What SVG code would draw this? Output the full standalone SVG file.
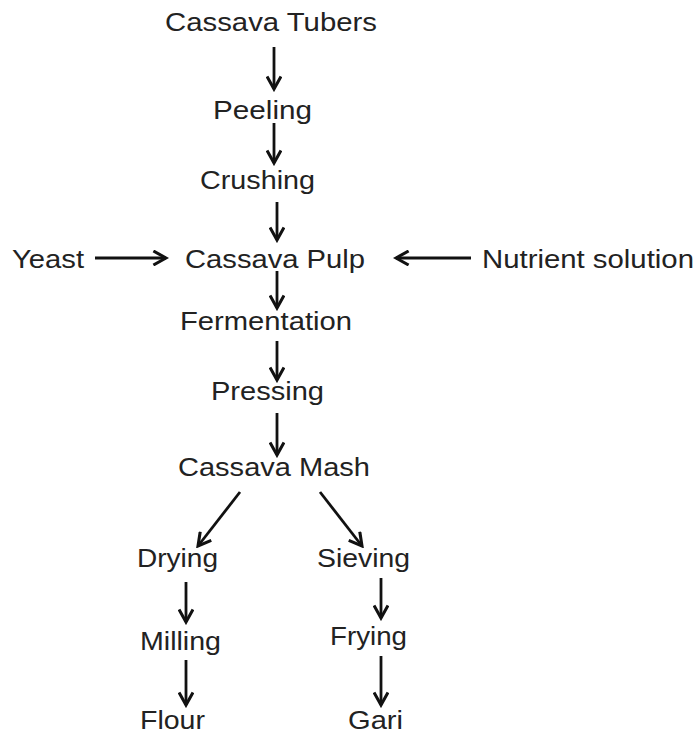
<svg xmlns="http://www.w3.org/2000/svg" width="696" height="734" viewBox="0 0 696 734">
<defs>
<style>
text{font-family:"Liberation Sans",Arial,sans-serif;font-size:26px;fill:#222}
.c line{stroke:#111;stroke-width:2.8;fill:none}
</style>
<marker id="ah" viewBox="0 0 12 12" refX="10" refY="6" markerWidth="6" markerHeight="6" markerUnits="strokeWidth" orient="auto">
<path d="M1,1 L10,6 L1,11" fill="none" stroke="#111" stroke-width="2.2"/>
</marker>
</defs>
<rect width="696" height="734" fill="#fff"/>
<g id="n-tubers"><text x="165" y="31" textLength="212" lengthAdjust="spacingAndGlyphs">Cassava Tubers</text></g>
<g id="n-peeling"><text x="213" y="119" textLength="99" lengthAdjust="spacingAndGlyphs">Peeling</text></g>
<g id="n-crushing"><text x="200" y="189" textLength="115" lengthAdjust="spacingAndGlyphs">Crushing</text></g>
<g id="n-yeast"><text x="12" y="268" textLength="72" lengthAdjust="spacingAndGlyphs">Yeast</text></g>
<g id="n-pulp"><text x="185" y="268" textLength="180" lengthAdjust="spacingAndGlyphs">Cassava Pulp</text></g>
<g id="n-nutrient"><text x="482" y="268" textLength="212" lengthAdjust="spacingAndGlyphs">Nutrient solution</text></g>
<g id="n-fermentation"><text x="180" y="330" textLength="172" lengthAdjust="spacingAndGlyphs">Fermentation</text></g>
<g id="n-pressing"><text x="211" y="400" textLength="113" lengthAdjust="spacingAndGlyphs">Pressing</text></g>
<g id="n-mash"><text x="178" y="476" textLength="192" lengthAdjust="spacingAndGlyphs">Cassava Mash</text></g>
<g id="n-drying"><text x="137" y="567" textLength="81" lengthAdjust="spacingAndGlyphs">Drying</text></g>
<g id="n-sieving"><text x="317" y="567" textLength="93" lengthAdjust="spacingAndGlyphs">Sieving</text></g>
<g id="n-milling"><text x="140" y="650" textLength="81" lengthAdjust="spacingAndGlyphs">Milling</text></g>
<g id="n-frying"><text x="330" y="645" textLength="77" lengthAdjust="spacingAndGlyphs">Frying</text></g>
<g id="n-flour"><text x="140" y="729" textLength="65" lengthAdjust="spacingAndGlyphs">Flour</text></g>
<g id="n-gari"><text x="348" y="729" textLength="55" lengthAdjust="spacingAndGlyphs">Gari</text></g>
<g id="connectors" class="c">
<line x1="274" y1="47" x2="274" y2="89" marker-end="url(#ah)"/>
<line x1="274" y1="123" x2="274" y2="163" marker-end="url(#ah)"/>
<line x1="277" y1="202" x2="277" y2="240" marker-end="url(#ah)"/>
<line x1="95" y1="258" x2="166" y2="258" marker-end="url(#ah)"/>
<line x1="471" y1="258" x2="396" y2="258" marker-end="url(#ah)"/>
<line x1="277" y1="271" x2="277" y2="308" marker-end="url(#ah)"/>
<line x1="277" y1="341" x2="277" y2="380" marker-end="url(#ah)"/>
<line x1="277" y1="413" x2="277" y2="455" marker-end="url(#ah)"/>
<line x1="240" y1="492" x2="198" y2="546" marker-end="url(#ah)"/>
<line x1="320" y1="492" x2="362" y2="546" marker-end="url(#ah)"/>
<line x1="186" y1="582" x2="186" y2="622" marker-end="url(#ah)"/>
<line x1="381" y1="578" x2="381" y2="618" marker-end="url(#ah)"/>
<line x1="186" y1="660" x2="186" y2="705" marker-end="url(#ah)"/>
<line x1="381" y1="656" x2="381" y2="705" marker-end="url(#ah)"/>
</g>
</svg>
